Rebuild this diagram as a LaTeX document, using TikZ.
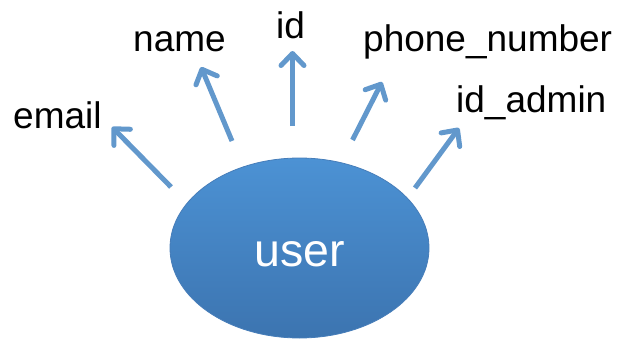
\documentclass[tikz,border=0pt]{standalone}
\usepackage{fontspec}
\setmainfont{Liberation Sans}
\usetikzlibrary{shapes.geometric,arrows.meta}
\definecolor{ovaltop}{RGB}{76,146,212}
\definecolor{ovalbot}{RGB}{60,116,176}
\definecolor{ovalrim}{RGB}{70,125,185}
\definecolor{arrowblue}{RGB}{98,152,204}
\tikzset{
  attr/.style={anchor=base west,inner sep=0pt,font=\fontsize{37}{40}\selectfont},
  entity/.style={ellipse,minimum width=259pt,minimum height=180pt,inner sep=0pt,
    top color=ovaltop,bottom color=ovalbot,draw=ovalrim,line width=0.8pt},
  link/.style={draw=arrowblue,line width=5pt,
    -{Straight Barb[length=12pt,width=23pt,line width=5pt,round]}}
}
\begin{document}
\begin{tikzpicture}[x=1pt,y=-1pt]
\useasboundingbox (0,0) rectangle (622,340);
% entity
\node[entity] (user) at (299.5,248) {};
\node[anchor=base,inner sep=0pt,text=white,font=\fontsize{46.5}{50}\selectfont] (userlbl) at (300,266) {user};
% attributes
\node[attr] (email) at (13,128) {email};
\node[attr] (name) at (133,52) {name};
\node[attr] (id) at (276,38) {id};
\node[attr] (phone) at (363,52) {phone\_number};
\node[attr] (idadmin) at (456,112) {id\_admin};
% arrow ends
\coordinate (e0) at (171,187);  \coordinate (e1) at (112,127);
\coordinate (n0) at (232,141);  \coordinate (n1) at (201,67);
\coordinate (i0) at (292.5,126); \coordinate (i1) at (292.5,51);
\coordinate (p0) at (352.5,140); \coordinate (p1) at (382,82);
\coordinate (a0) at (415,188);  \coordinate (a1) at (459,128);
\draw[link] (e0) -- (e1);
\draw[link] (n0) -- (n1);
\draw[link] (i0) -- (i1);
\draw[link] (p0) -- (p1);
\draw[link] (a0) -- (a1);
\end{tikzpicture}
\end{document}
